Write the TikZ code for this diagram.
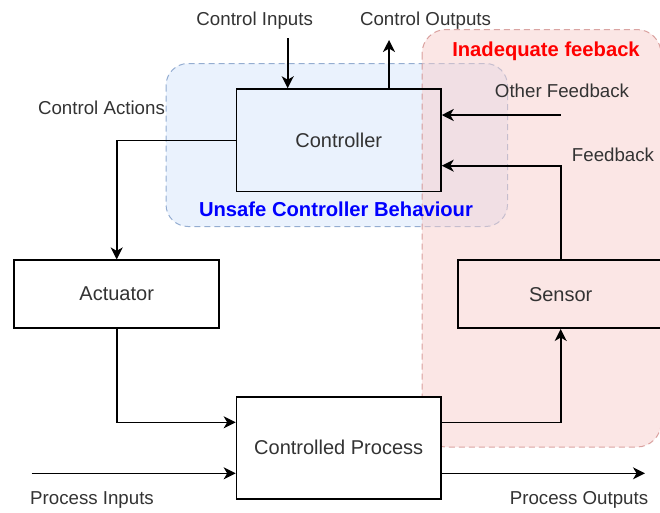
\documentclass[tikz,border=0pt]{standalone}
\usepackage{fontspec}
\setmainfont{Liberation Sans}
\usetikzlibrary{arrows.meta}
\definecolor{ink}{HTML}{333333}
\definecolor{blueFill}{HTML}{DAE8FC}
\definecolor{blueLine}{HTML}{6C8EBF}
\definecolor{redFill}{HTML}{F8CECC}
\definecolor{redLine}{HTML}{B85450}
\tikzset{
  blockbox/.style={draw=black, line width=1.6pt, text=ink, inner sep=0pt,
    font=\fontsize{20}{24}\selectfont},
  lbl/.style={text=ink, inner sep=0pt, font=\fontsize{18.7}{22}\selectfont},
  regionlbl/.style={inner sep=0pt, font=\bfseries\fontsize{20.2}{24}\selectfont},
  arr/.style={draw=black, line width=1.6pt,
    -{Stealth[length=12pt,width=12pt,inset=3.5pt]}},
  blueregion/.style={fill=blueFill, fill opacity=0.55, draw=blueLine, draw opacity=0.7,
    line width=1pt, dash pattern=on 6pt off 4pt, rounded corners=22pt},
  redregion/.style={fill=redFill, fill opacity=0.5, draw=redLine, draw opacity=0.5,
    line width=1pt, dash pattern=on 6pt off 4pt, rounded corners=24pt},
}
\begin{document}
\begin{tikzpicture}[x=1pt, y=-1pt]
\useasboundingbox (0,0) rectangle (660,512);
\clip (0,0) rectangle (660,512);
\fill[white] (0,0) rectangle (660,512);

% grouping regions
\draw[blueregion] (166,63.5) rectangle (507.5,226.5);
\draw[redregion] (422,29.5) rectangle (661,447);

% blocks
\node[blockbox, minimum width=204.5pt, minimum height=102.5pt] (controller) at (338.7,140.3) {Controller};
\node[blockbox, fill=white, minimum width=205pt, minimum height=68pt] (actuator) at (116.7,294.2) {Actuator};
\node[blockbox, minimum width=205pt, minimum height=68pt] (sensor) at (560.7,294.2) {Sensor};
\node[blockbox, fill=white, minimum width=204.5pt, minimum height=102pt] (process) at (338.7,447.8) {Controlled Process};

% free ends of the connectors
\coordinate (ci) at (287.7,38);
\coordinate (co) at (389,40);
\coordinate (of) at (560.7,115);
\coordinate (fbk) at (0,165.7);
\coordinate (pa) at (0,422.3);
\coordinate (pi) at (31.7,473.3);
\coordinate (po) at (645,473.3);

% connectors
\draw[arr] (ci) -- (ci |- controller.north);
\draw[arr] (controller.north -| co) -- (co);
\draw[arr] (of) -- (of -| controller.east);
\draw[arr] (sensor.north) |- (controller.east |- fbk);
\draw[arr] (controller.west) -| (actuator.north);
\draw[arr] (actuator.south) |- (process.west |- pa);
\draw[arr] (process.east |- pa) -| (sensor.south);
\draw[arr] (pi) -- (pi -| process.west);
\draw[arr] (process.east |- po) -- (po);

% labels
\node[lbl] (lci) at (254.7,20.5) {Control Inputs};
\node[lbl] (lco) at (425.5,20.5) {Control Outputs};
\node[lbl] (lca) at (101.5,107.5) {Control Actions};
\node[lbl] (lof) at (562,90.5) {Other Feedback};
\node[lbl] (lfb) at (613,155) {Feedback};
\node[lbl] (lpi) at (92,499.5) {Process Inputs};
\node[lbl] (lpo) at (579,499.5) {Process Outputs};
\node[regionlbl, text=blue] (lucb) at (336,209.5) {Unsafe Controller Behaviour};
\node[regionlbl, text=red] (lif) at (546,51.5) {Inadequate feeback};
\end{tikzpicture}
\end{document}
